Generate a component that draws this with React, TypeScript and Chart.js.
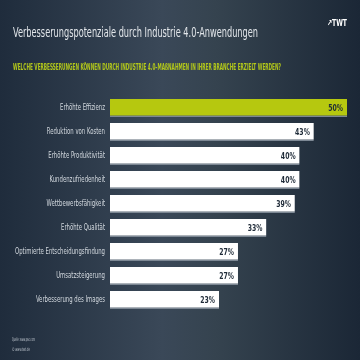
import React, { useEffect, useRef } from "react";
import { Chart, registerables } from "chart.js";
Chart.register(...registerables);

const titleText = "Verbesserungspotenziale durch Industrie 4.0-Anwendungen";
const subtitleText = "WELCHE VERBESSERUNGEN KÖNNEN DURCH INDUSTRIE 4.0–MAßNAHMEN IN IHRER BRANCHE ERZIELT WERDEN?";
const logoText = "↗TWT";
const sourceLines = ["Quelle: www.pwc.com", "© www.twt.de"];
const categories = [
  "Erhöhte Effizienz",
  "Reduktion von Kosten",
  "Erhöhte Produktivität",
  "Kundenzufriedenheit",
  "Wettbewerbsfähigkeit",
  "Erhöhte Qualität",
  "Optimierte Entscheidungsfindung",
  "Umsatzsteigerung",
  "Verbesserung des Images",
];
const values = [50, 43, 40, 40, 39, 33, 27, 27, 23];
const highlightIndex = 0;

const NARROW = '"Liberation Sans Narrow", "DejaVu Sans Condensed", "Liberation Sans", sans-serif';

function fitText(ctx: CanvasRenderingContext2D, text: string, x: number, y: number, width: number, font: string, color: string) {
  ctx.save();
  ctx.font = font;
  ctx.fillStyle = color;
  ctx.textAlign = "left";
  ctx.textBaseline = "alphabetic";
  const w = ctx.measureText(text).width;
  ctx.translate(x, y);
  ctx.scale(width / w, 1);
  ctx.fillText(text, 0, 0);
  ctx.restore();
}

function squeezedText(ctx: CanvasRenderingContext2D, text: string, x: number, y: number, sx: number, font: string, color: string, align: CanvasTextAlign) {
  ctx.save();
  ctx.font = font;
  ctx.fillStyle = color;
  ctx.textAlign = align;
  ctx.textBaseline = "middle";
  ctx.translate(x, y);
  ctx.scale(sx, 1);
  ctx.fillText(text, 0, 0);
  ctx.restore();
}

const decor = {
  id: "decor",
  beforeDraw(chart: any) {
    const ctx = chart.ctx as CanvasRenderingContext2D;
    const W = chart.width, H = chart.height;
    const g = ctx.createLinearGradient(0, 0, W, 0);
    g.addColorStop(0, "#1f2c3c");
    g.addColorStop(0.45, "#3a4858");
    g.addColorStop(0.6, "#35434f");
    g.addColorStop(1, "#1b2736");
    ctx.save();
    ctx.fillStyle = g;
    ctx.fillRect(0, 0, W, H);
    ctx.restore();
  },
  afterDraw(chart: any) {
    const ctx = chart.ctx as CanvasRenderingContext2D;
    fitText(ctx, titleText, 13, 37, 245, `300 14px ${NARROW}`, "#e2e6ea");
    fitText(ctx, logoText, 327, 26, 20, `bold 9px "DejaVu Sans", sans-serif`, "#ffffff");
    fitText(ctx, subtitleText, 13, 70, 268, `bold 8px ${NARROW}`, "#b3c81a");
    fitText(ctx, sourceLines[0], 12, 341, 23, `5px ${NARROW}`, "#c3cad2");
    fitText(ctx, sourceLines[1], 12, 351, 18, `5px ${NARROW}`, "#c3cad2");
    const ys = chart.scales.y;
    const labels = chart.data.labels as string[];
    labels.forEach((lab, i) => {
      squeezedText(ctx, lab, ys.right - 5, ys.getPixelForTick(i), 0.7, `8.5px ${NARROW}`, "#d2d8de", "right");
    });
  },
  afterDatasetsDraw(chart: any) {
    const ctx = chart.ctx as CanvasRenderingContext2D;
    const meta = chart.getDatasetMeta(0);
    meta.data.forEach((bar: any, i: number) => {
      squeezedText(ctx, values[i] + "%", bar.x - 4, bar.y + 0.5, 0.72, `bold 9.5px "DejaVu Sans Condensed", ${NARROW}`, "#1f2b38", "right");
    });
  },
};

export default function App() {
  const ref = useRef<HTMLCanvasElement>(null);
  useEffect(() => {
    document.body.style.margin = "0";
    const chart = new Chart(ref.current!, {
      type: "bar",
      data: {
        labels: categories,
        datasets: [
          {
            data: values,
            backgroundColor: values.map((_, i) => (i === highlightIndex ? "#b6c80f" : "#ffffff")),
            borderColor: "#7d8894",
            borderWidth: { top: 0, left: 0, right: 0, bottom: 1.5 } as any,
            borderSkipped: false,
            barPercentage: 0.74,
            categoryPercentage: 1,
          },
        ],
      },
      options: {
        indexAxis: "y",
        animation: false,
        responsive: false,
        devicePixelRatio: 1,
        layout: { padding: { top: 96, bottom: 48, left: 8, right: 13 } },
        plugins: { legend: { display: false }, tooltip: { enabled: false }, title: { display: false } },
        scales: {
          x: { min: 0, max: 50, display: false, grid: { display: false } },
          y: {
            grid: { display: false, drawTicks: false },
            border: { display: false },
            ticks: { display: false, autoSkip: false },
            afterFit: (s: any) => {
              s.width = 102;
            },
          },
        },
      },
      plugins: [decor],
    });
    return () => chart.destroy();
  }, []);
  return (
    <div style={{ position: "absolute", left: 0, top: 0, width: 360, height: 360 }}>
      <canvas ref={ref} width={360} height={360} style={{ width: 360, height: 360, display: "block" }} />
    </div>
  );
}
